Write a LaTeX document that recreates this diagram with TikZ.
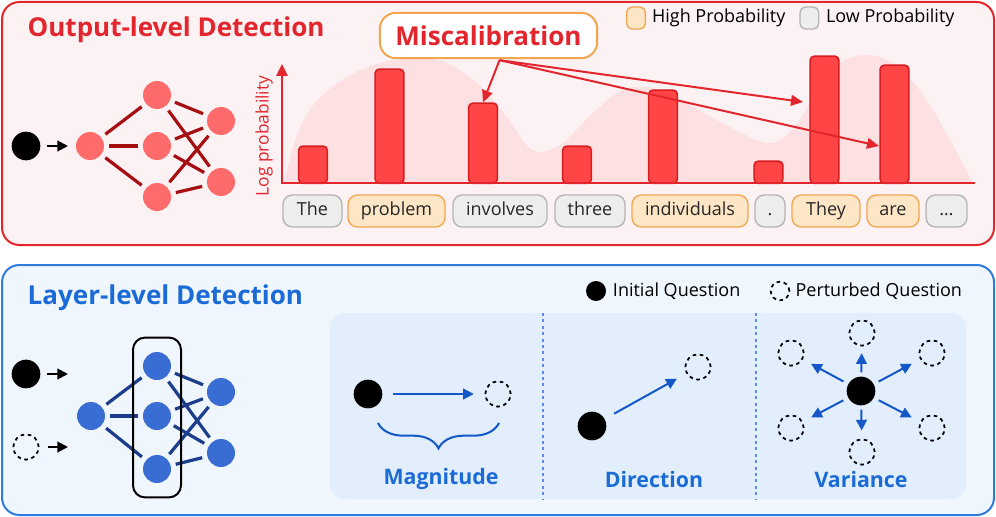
\documentclass[tikz,border=0pt]{standalone}
\usepackage{fontspec}
\setmainfont{Open Sans}
\usetikzlibrary{arrows.meta, positioning, calc, fit, decorations.pathreplacing}

\definecolor{outred}{HTML}{E3262E}
\definecolor{outbg}{HTML}{FDF2F3}
\definecolor{nodered}{HTML}{FF6B6B}
\definecolor{wirered}{HTML}{A50F12}
\definecolor{barfill}{HTML}{FF4545}
\definecolor{barline}{HTML}{D61E22}
\definecolor{wavepink}{HTML}{FCE0E2}
\definecolor{hifill}{HTML}{FDE6C6}
\definecolor{hiline}{HTML}{F2A650}
\definecolor{lofill}{HTML}{EDEDED}
\definecolor{loline}{HTML}{B4B4B4}
\definecolor{layblue}{HTML}{2F7BDD}
\definecolor{laybg}{HTML}{F0F6FD}
\definecolor{laytitle}{HTML}{1A6BD6}
\definecolor{nodeblue}{HTML}{3A6DD3}
\definecolor{wireblue}{HTML}{1C3C8C}
\definecolor{panelblue}{HTML}{E2EEFB}
\definecolor{sepblue}{HTML}{5C8EE0}
\definecolor{arrowblue}{HTML}{1457C9}

\begin{document}
\begin{tikzpicture}[x=0.75pt, y=-0.75pt, font=\fontsize{13.5}{16}\selectfont,
  >={Triangle[length=8pt, width=8pt]},
  neuron/.style={circle, minimum size=21pt, inner sep=0pt, outer sep=4pt},
  rednode/.style={neuron, fill=nodered},
  bluenode/.style={neuron, fill=nodeblue},
  redwire/.style={wirered, line width=2.4pt},
  bluewire/.style={wireblue, line width=2.4pt},
  qdot/.style={circle, fill=black, minimum size=21.5pt, inner sep=0pt},
  ghost/.style={circle, draw=black, line width=1.3pt, dash pattern=on 2.7pt off 2.7pt, minimum size=19pt, inner sep=0pt},
  probbar/.style={draw=barline, fill=barfill, line width=1.2pt, rounded corners=3pt, minimum width=21.5pt, inner sep=0pt, anchor=south},
  token/.style={rounded corners=7pt, minimum height=24pt, inner sep=0pt, line width=1pt, text=black!85, text height=0.9em, text depth=0.2em},
  hitok/.style={token, fill=hifill, draw=hiline},
  lotok/.style={token, fill=lofill, draw=loline},
  heading/.style={anchor=west, font=\fontsize{19.5}{23}\selectfont\bfseries},
  sublabel/.style={text=laytitle, font=\fontsize{16}{19}\selectfont\bfseries},
  misarrow/.style={->, >={Triangle[length=9pt, width=8pt]}, outred, line width=1.5pt},
  bluearrow/.style={->, arrowblue, line width=1.5pt}]
\useasboundingbox (0,0) rectangle (996,517);

% output-level panel
\draw[outred, fill=outbg, line width=1.5pt, rounded corners=13pt] (2,2) rectangle (994,245);
\node[heading, text=outred] (otitle) at (23,30) {Output-level Detection};

\fill[wavepink] plot[smooth, tension=0.55] coordinates {(284,183) (297,135) (315,103) (345,78) (380,63) (413,58) (445,62) (478,84) (507,117) (532,150) (560,145) (592,114) (622,90) (652,88) (685,102) (720,122) (767,143) (792,130) (812,100) (835,66) (867,55) (900,68) (933,110) (973,183)} -- cycle;

\foreach \i/\x/\t in {1/313/147, 2/389.5/70, 3/483/104, 4/577/147, 5/663/91, 6/768.5/162, 7/824.5/57, 8/894.5/66}
  \node[probbar, minimum height={(184-\t)*0.75pt}] (b\i) at (\x,184) {};
\draw[outred, line width=1.5pt] (282,183) -- (975,183);
\draw[->, >={Triangle[length=9pt, width=8.5pt]}, outred, line width=1.5pt] (282,184) -- (282,64);
\node[rotate=90, text=outred, font=\fontsize{13}{15}\selectfont] (ylab) at (264,136) {Log probability};

\foreach \i/\x/\w/\s/\t in {1/312.5/44.25/lotok/The, 2/396.5/72.75/hitok/problem, 3/500/70.5/lotok/involves, 4/590/52.5/lotok/three, 5/690/87/hitok/individuals, 6/770/22.5/lotok/{.}, 7/826/51/hitok/They, 8/893/39/hitok/are, 9/946.5/30.75/lotok/\ldots}
  \node[\s, minimum width=\w pt] (tok\i) at (\x,211) {\t};

\node[hitok, minimum width=14pt, minimum height=16.5pt, rounded corners=4pt] (hikey) at (636,18) {};
\node[right=1pt of hikey] (hitext) {High Probability};
\node[lotok, minimum width=14pt, minimum height=16.5pt, rounded corners=4pt, right=7pt of hitext] (lokey) {};
\node[right=1.5pt of lokey] (lotext) {Low Probability};

\node[draw=hiline, fill=white, line width=1.5pt, rounded corners=12pt, minimum width=163pt, minimum height=34pt, text=outred, font=\fontsize{19.5}{23}\selectfont\bfseries] (mis) at (488.5,35.5) {Miscalibration};
\coordinate (mfrom) at ($(mis.south)+(11,1)$);
\coordinate (aim7) at (803,102);
\coordinate (aim8) at (879,146);
\draw[misarrow] (mfrom) -- (b3.north);
\draw[misarrow] (mfrom) -- (aim7);
\draw[misarrow] (mfrom) -- (aim8);

\node[qdot] (oq) at (26,146) {};
\node[rednode] (oin) at (90,146) {};
\foreach \n/\y in {1/95, 2/146, 3/197} \node[rednode] (oh\n) at (157,\y) {};
\foreach \n/\y in {1/121, 2/182} \node[rednode] (oo\n) at (221,\y) {};
\draw[->, line width=1.5pt, shorten <=5pt, shorten >=2pt] (oq) -- (oin);
\foreach \n in {1,2,3} {
  \draw[redwire] (oin) -- (oh\n);
  \foreach \m in {1,2} \draw[redwire] (oh\n) -- (oo\m);
}

% layer-level panel
\draw[layblue, fill=laybg, line width=1.5pt, rounded corners=13pt] (2,265) rectangle (994,515);
\node[heading, text=laytitle] (ltitle) at (23,298) {Layer-level Detection};

\node[qdot] (lq) at (26,374) {};
\node[ghost] (lp) at (26,447) {};
\coordinate (lqa) at (68,374);
\coordinate (lpa) at (68,447);
\draw[->, line width=1.5pt, shorten <=5pt] (lq) -- (lqa);
\draw[->, line width=1.5pt, shorten <=6pt] (lp) -- (lpa);
\node[bluenode] (lin) at (91,416) {};
\foreach \n/\y in {1/366, 2/416, 3/469} \node[bluenode] (lh\n) at (157,\y) {};
\foreach \n/\y in {1/392, 2/453} \node[bluenode] (lo\n) at (221,\y) {};
\foreach \n in {1,2,3} {
  \draw[bluewire] (lin) -- (lh\n);
  \foreach \m in {1,2} \draw[bluewire] (lh\n) -- (lo\m);
}
\node[draw, line width=1.5pt, rounded corners=9pt, fit=(lh1)(lh3), inner xsep=3.5pt, inner ysep=6.8pt] (probe) {};

\node[qdot, minimum size=15pt] (ikey) at (596,291) {};
\node[right=1.5pt of ikey] (itext) {Initial Question};
\node[ghost, minimum size=14pt] (pkey) at (780,291) {};
\node[right=0.5pt of pkey] (ptext) {Perturbed Question};

\fill[panelblue, rounded corners=11pt] (330,313) rectangle (966,499);
\draw[sepblue, line width=1.5pt, dash pattern=on 2.2pt off 2.6pt] (543,313) -- (543,499);
\draw[sepblue, line width=1.5pt, dash pattern=on 2.2pt off 2.6pt] (756,313) -- (756,499);

% magnitude
\node[qdot] (mq) at (368,394) {};
\node[ghost] (mp) at (498,394) {};
\draw[bluearrow, shorten <=7.5pt, shorten >=8pt] (mq) -- (mp);
\coordinate (mbl) at (378,423);
\coordinate (mbr) at (499,423);
\draw[arrowblue, line width=1.5pt, decorate, decoration={brace, mirror, amplitude=19pt}] (mbl) -- (mbr);
\node[sublabel] (mlab) at (441,479) {Magnitude};

% direction
\node[qdot] (dq) at (592,426) {};
\node[ghost] (dp) at (698,367) {};
\draw[bluearrow, shorten <=8pt, shorten >=8pt] (dq) -- (dp);
\node[sublabel] (dlab) at (654,479) {Direction};

% variance
\node[qdot] (vq) at (861,391) {};
\foreach \n/\x/\y/\a/\b in {1/862/333/3pt/5pt, 2/932/353/4pt/7pt, 3/932/428/4pt/7pt, 4/862/452/3pt/6pt, 5/791/428/4pt/7pt, 6/791/353/4pt/7pt} {
  \node[ghost] (vp\n) at (\x,\y) {};
  \draw[bluearrow, shorten <=\a, shorten >=\b] (vq) -- (vp\n);
}
\node[sublabel] (vlab) at (861,479) {Variance};
\end{tikzpicture}
\end{document}
